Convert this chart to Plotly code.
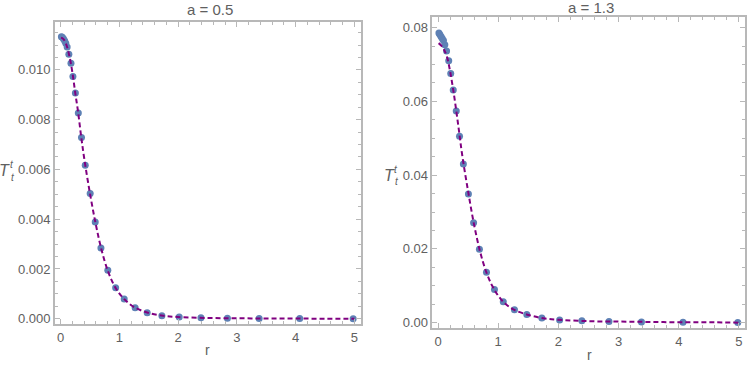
import plotly.graph_objects as go

# ── Data ─────────────────────────────────────────────────────────────────────
r_pts = [0.015, 0.03, 0.05, 0.07, 0.09, 0.113, 0.142, 0.178, 0.211, 0.253,
         0.303, 0.357, 0.421, 0.505, 0.591, 0.688, 0.805, 0.938, 1.084, 1.27,
         1.475, 1.725, 2.02, 2.39, 2.84, 3.38, 4.07, 4.98]

t_pts_a05 = [0.01133, 0.01131, 0.01125, 0.01117, 0.01107, 0.01092, 0.01063, 0.01027,
             0.00973, 0.00907, 0.00827, 0.00728, 0.00617, 0.00503, 0.00389, 0.00284,
             0.00195, 0.00125, 0.00079, 0.00044, 0.00024, 0.00012, 0.00007, 0.00004,
             0.00002, 0.00001, 0.00001, 0.00000]

t_pts_a13 = [0.07852, 0.07814, 0.07761, 0.07707, 0.07653, 0.07537, 0.07368, 0.07099,
             0.06757, 0.06307, 0.05742, 0.05053, 0.04299, 0.03491, 0.02711, 0.01992,
             0.01365, 0.00896, 0.00565, 0.00350, 0.00223, 0.00127, 0.00073, 0.00050,
             0.00030, 0.00020, 0.00010, 0.00005]

r_fit = [0.01, 0.05, 0.1, 0.15, 0.2, 0.25, 0.3, 0.35, 0.4, 0.5, 0.6, 0.7, 0.8,
         0.9, 1.0, 1.1, 1.25, 1.5, 1.75, 2.0, 2.5, 3.0, 3.5, 4.0, 4.5, 5.0]

t_fit_a05 = [0.01130, 0.01124, 0.01101, 0.01057, 0.00993, 0.00909, 0.00830, 0.00735,
             0.00650, 0.00505, 0.00380, 0.00275, 0.00196, 0.00140, 0.00102, 0.00075,
             0.00047, 0.00023, 0.00012, 0.00007, 0.00003, 0.00002, 0.00001, 0.00001,
             0.00000, 0.00000]

t_fit_a13 = [0.0758, 0.0752, 0.0740, 0.0720, 0.0682, 0.0634, 0.0578, 0.0518,
             0.0456, 0.0356, 0.0265, 0.0192, 0.0138, 0.0100, 0.0073, 0.0054,
             0.0036, 0.0021, 0.0012, 0.0008, 0.0004, 0.0003, 0.0002, 0.0001,
             0.0001, 0.0000]

titles = ["a = 0.5", "a = 1.3"]

# ── Style ────────────────────────────────────────────────────────────────────
W, H = 747, 365
POINT = "#5E81B5"
FIT = "#800080"
FRAME = "#b8b8b8"
TEXT = "#606060"
FONT = "Liberation Sans"

# pixel boxes of the two frames: (left, top, right, bottom)
boxes = [(55, 22, 361, 326), (433, 17, 746, 330)]
xranges = [[-0.095, 5.105], [-0.093, 5.10]]
yranges = [[-0.00022, 0.01193], [-0.0015, 0.0829]]
ydticks = [0.002, 0.02]
yminor = [0.0005, 0.005]
yformats = [".3f", ".2f"]


def px(x, y):
    return x / W, 1 - y / H


fig = go.Figure()
panels = [(t_pts_a05, t_fit_a05), (t_pts_a13, t_fit_a13)]
for i, (pts, fit) in enumerate(panels):
    xa = "x" if i == 0 else "x2"
    ya = "y" if i == 0 else "y2"
    fig.add_trace(go.Scatter(x=r_pts, y=pts, mode="markers", xaxis=xa, yaxis=ya,
                             marker=dict(color=POINT, size=7), showlegend=False))
    fig.add_trace(go.Scatter(x=r_fit, y=fit, mode="lines", xaxis=xa, yaxis=ya,
                             line=dict(color=FIT, width=2, dash="5px,3px", shape="spline"),
                             showlegend=False))

    l, t, r, b = boxes[i]
    x0, y1 = px(l, t)
    x1, y0 = px(r, b)
    common = dict(showline=True, linecolor=FRAME, linewidth=1.5, mirror="allticks",
                  ticks="inside", ticklen=5, tickcolor=FRAME, tickwidth=1,
                  showgrid=False, zeroline=False,
                  tickfont=dict(family=FONT, size=13, color=TEXT))
    fig.update_layout({
        ("xaxis" if i == 0 else "xaxis2"): dict(
            common, domain=[x0, x1], range=xranges[i], anchor=ya,
            tick0=0, dtick=1,
            minor=dict(ticks="inside", dtick=0.2, ticklen=3, tickcolor=FRAME)),
        ("yaxis" if i == 0 else "yaxis2"): dict(
            common, domain=[y0, y1], range=yranges[i], anchor=xa,
            tick0=0, dtick=ydticks[i], tickformat=yformats[i],
            minor=dict(ticks="inside", dtick=yminor[i], ticklen=3, tickcolor=FRAME)),
    })

# titles, axis labels
ann = []
for cx, cy, txt in [(210, 10, titles[0]), (592, 8, titles[1])]:
    x, y = px(cx, cy)
    ann.append(dict(x=x, y=y, text=txt, font=dict(family=FONT, size=15, color=TEXT)))
for cx, cy in [(208, 352), (590, 357)]:
    x, y = px(cx, cy)
    ann.append(dict(x=x, y=y, text="r", font=dict(family=FONT, size=14, color=TEXT)))
for tx, ty in [(5, 171), (390, 176)]:
    x, y = px(tx, ty)
    ann.append(dict(x=x, y=y, text="<i>T</i>", font=dict(family=FONT, size=16, color=TEXT)))
    x, y = px(tx + 7, ty - 6)
    ann.append(dict(x=x, y=y, text="<i>t</i>", font=dict(family=FONT, size=10, color=TEXT)))
    x, y = px(tx + 8, ty + 7)
    ann.append(dict(x=x, y=y, text="<i>t</i>", font=dict(family=FONT, size=10, color=TEXT)))
for a in ann:
    a.update(xref="paper", yref="paper", showarrow=False, xanchor="center", yanchor="middle")

fig.update_layout(
    width=W, height=H, margin=dict(l=0, r=0, t=0, b=0),
    paper_bgcolor="white", plot_bgcolor="white",
    annotations=ann,
)

# the page body has a default 8px margin; drop it so the figure sits at (0, 0)
fig.write_html("out.html", config={"displayModeBar": False},
               post_script="document.body.style.margin='0';")
